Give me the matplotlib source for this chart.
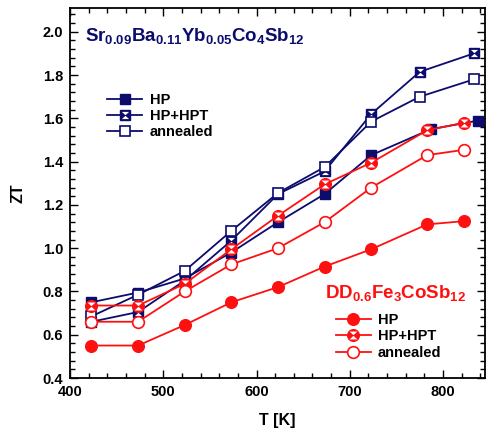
import matplotlib
matplotlib.use('Agg')
import matplotlib.pyplot as plt
from matplotlib.path import Path
from matplotlib.ticker import MultipleLocator, FormatStrFormatter

plt.rcParams['font.family'] = ['Liberation Sans', 'DejaVu Sans']
plt.rcParams['font.weight'] = 'bold'
plt.rcParams['mathtext.fontset'] = 'custom'
plt.rcParams['mathtext.rm'] = 'Liberation Sans:bold'
plt.rcParams['mathtext.bf'] = 'Liberation Sans:bold'
plt.rcParams['mathtext.default'] = 'bf'

navy = '#0c0c6e'
red = '#ff1010'

# Sr0.09Ba0.11Yb0.05Co4Sb12 (navy squares)
T_sr = [423, 473, 523, 573, 623, 673, 723, 775, 833]
T_sr_hp = [423, 473, 523, 573, 623, 673, 723, 787, 838]
zt_sr_hp = [0.75, 0.795, 0.86, 0.98, 1.12, 1.25, 1.43, 1.55, 1.59]
zt_sr_hpt = [0.66, 0.705, 0.85, 1.035, 1.25, 1.355, 1.62, 1.815, 1.90]
zt_sr_ann = [0.685, 0.785, 0.895, 1.08, 1.255, 1.375, 1.585, 1.70, 1.78]

# DD0.6Fe3CoSb12 (red circles)
T_dd = [423, 473, 523, 573, 623, 673, 723, 783, 823]
zt_dd_hp = [0.55, 0.55, 0.645, 0.75, 0.82, 0.915, 0.995, 1.11, 1.125]
zt_dd_hpt = [0.735, 0.735, 0.835, 0.995, 1.15, 1.295, 1.395, 1.545, 1.58]
zt_dd_ann = [0.66, 0.66, 0.80, 0.925, 1.0, 1.12, 1.28, 1.43, 1.455]

labels = ['HP', 'HP+HPT', 'annealed']

# white hourglass drawn on top of a filled marker
hourglass = Path([(-1, 1), (1, 1), (0, 0.08), (-1, 1),
                  (-1, -1), (1, -1), (0, -0.08), (-1, -1)],
                 [Path.MOVETO, Path.LINETO, Path.LINETO, Path.CLOSEPOLY,
                  Path.MOVETO, Path.LINETO, Path.LINETO, Path.CLOSEPOLY])

fig = plt.figure(figsize=(4.87, 4.40), dpi=100)
ax = fig.add_axes([70 / 487, 1 - 378 / 440, 415 / 487, 370 / 440])

ms_sq = 7.6
ms_ci = 8.4
lw = 1.3


def series(x, y, color, marker, ms, style):
    if style == 'open':
        return ax.plot(x, y, color=color, lw=lw, marker=marker, ms=ms,
                       mfc='white', mec=color, mew=1.2)[0]
    h = ax.plot(x, y, color=color, lw=lw, marker=marker, ms=ms,
                mfc=color, mec=color, mew=1.0)[0]
    if style == 'hg':
        h2 = ax.plot(x, y, ls='none', marker=hourglass, ms=ms * 0.68,
                     mfc='white', mec='none')[0]
        return (h, h2)
    return h


hs_sr = [series(T_sr_hp, zt_sr_hp, navy, 's', ms_sq, 'fill'),
         series(T_sr, zt_sr_hpt, navy, 's', ms_sq, 'hg'),
         series(T_sr, zt_sr_ann, navy, 's', ms_sq, 'open')]
hs_dd = [series(T_dd, zt_dd_hp, red, 'o', ms_ci, 'fill'),
         series(T_dd, zt_dd_hpt, red, 'o', ms_ci, 'hg'),
         series(T_dd, zt_dd_ann, red, 'o', ms_ci, 'open')]

ax.set_xlim(400, 845)
ax.set_ylim(0.4, 2.11)
ax.xaxis.set_major_locator(MultipleLocator(100))
ax.xaxis.set_minor_locator(MultipleLocator(20))
ax.yaxis.set_major_locator(MultipleLocator(0.2))
ax.yaxis.set_minor_locator(MultipleLocator(0.04))
ax.yaxis.set_major_formatter(FormatStrFormatter('%.1f'))
ax.tick_params(which='both', direction='in', top=True, right=True,
               labelsize=10.5, width=1.0, colors='black')
ax.tick_params(which='major', length=6, pad=5)
ax.tick_params(which='minor', length=3.5)
for s in ax.spines.values():
    s.set_linewidth(1.3)

ax.set_xlabel('T [K]', fontsize=11.5, fontweight='bold', labelpad=10)
ax.set_ylabel('ZT', fontsize=11.5, fontweight='bold', labelpad=12)

ax.text(0.036, 0.925, r'Sr$_{0.09}$Ba$_{0.11}$Yb$_{0.05}$Co$_4$Sb$_{12}$',
        transform=ax.transAxes, color=navy, fontsize=13.5, fontweight='bold',
        va='center', ha='left')
ax.text(0.615, 0.23, r'DD$_{0.6}$Fe$_3$CoSb$_{12}$',
        transform=ax.transAxes, color=red, fontsize=13.5, fontweight='bold',
        va='center', ha='left')

leg1 = ax.legend(hs_sr, labels, loc='upper left', bbox_to_anchor=(0.09, 0.77),
                 frameon=False, fontsize=10.5, handlelength=2.4,
                 handletextpad=0.5, labelspacing=0.15, borderpad=0,
                 borderaxespad=0)
ax.add_artist(leg1)
ax.legend(hs_dd, labels, loc='upper left', bbox_to_anchor=(0.64, 0.175),
          frameon=False, fontsize=10.5, handlelength=2.4,
          handletextpad=0.5, labelspacing=0.15, borderpad=0,
          borderaxespad=0)

fig.savefig('out.png', dpi=100)
